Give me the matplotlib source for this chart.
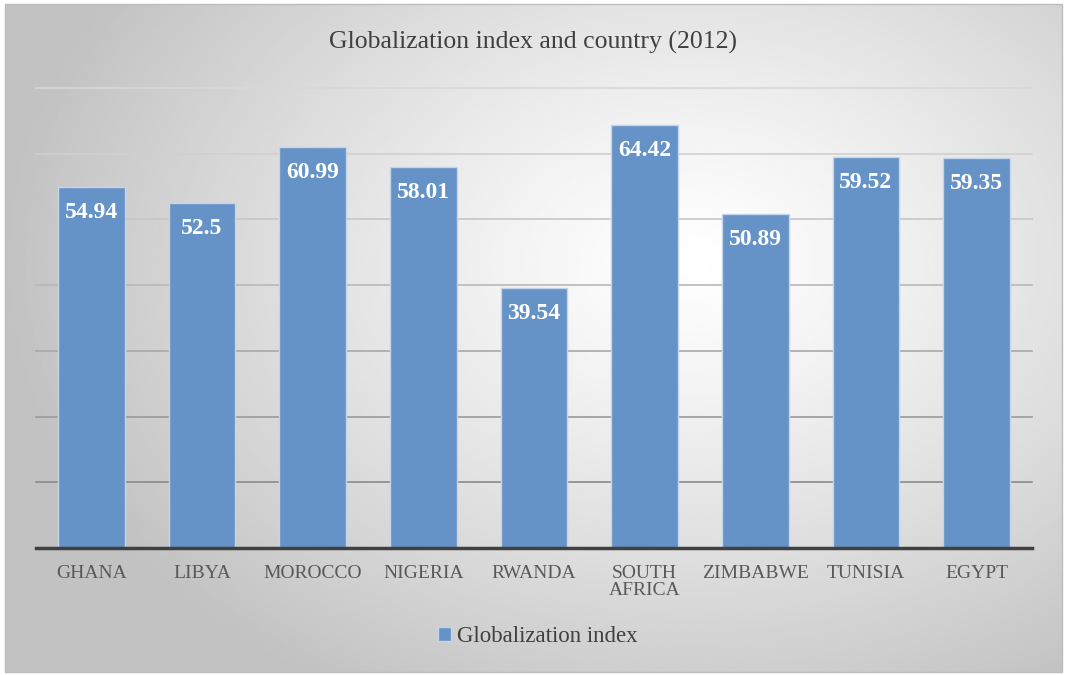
import numpy as np
import matplotlib
matplotlib.use("Agg")
import matplotlib.pyplot as plt
from matplotlib.patches import Rectangle

countries = ["GHANA", "LIBYA", "MOROCCO", "NIGERIA", "RWANDA",
             "SOUTH\nAFRICA", "ZIMBABWE", "TUNISIA", "EGYPT"]
index_2012 = [54.94, 52.5, 60.99, 58.01, 39.54, 64.42, 50.89, 59.52, 59.35]
grid_levels = [10, 20, 30, 40, 50, 60, 70]

SERIF = ["Liberation Serif", "DejaVu Serif"]
BAR_COLOR = "#6592c7"

plt.rcParams["font.family"] = SERIF

fig = plt.figure(figsize=(10.65, 6.75), dpi=100)

# radial grey-to-white backdrop inside a thin frame
bg = fig.add_axes([0, 0, 1, 1], zorder=0)
bg.set_xlim(0, 1065)
bg.set_ylim(675, 0)
bg.axis("off")
xx, yy = np.meshgrid(np.linspace(0, 1065, 400), np.linspace(0, 675, 260))
d = np.hypot((xx - 690) / 740, (yy - 260) / 540)
shade = np.clip(1.0 - 0.26 * d ** 1.2, 0.76, 1.0)
bg.imshow(shade, cmap="gray", vmin=0, vmax=1, extent=(5, 1062, 672, 4),
          interpolation="bilinear", aspect="auto")
bg.add_patch(Rectangle((5, 4), 1057, 668, fill=False, edgecolor="#bdbdbd", lw=1))

ax = fig.add_axes([36 / 1065, 1 - 548 / 675, 996 / 1065, 460 / 675], zorder=1)
ax.patch.set_alpha(0)
x = np.arange(len(countries))

# gridlines fade from darker at the bottom to lighter at the top
grid_cols = ["#8a8a8a", "#9a9a9a", "#a8a8a8", "#b8b8b8", "#c6c6c6", "#d0d0d0", "#d8d8d8"]
for lvl, col in zip(grid_levels, grid_cols):
    ax.axhline(lvl, color=col, lw=1.2, zorder=1, clip_on=False)

bars = ax.bar(x, index_2012, width=0.6, color=BAR_COLOR, edgecolor="#c3d5ea",
              linewidth=1.0, zorder=2, label="Globalization index")
for b, v in zip(bars, index_2012):
    ax.annotate(f"{v:g}", (b.get_x() + b.get_width() / 2, v), xytext=(0, -11),
                textcoords="offset points", ha="center", va="top",
                color="white", fontsize=17, fontweight="bold", zorder=3)

ax.axhline(0, color="#404040", lw=2.5, zorder=3, clip_on=False)
ax.set_xlim(-0.5, len(countries) - 0.5)
ax.set_ylim(0, 70)
ax.set_yticks([])
ax.set_xticks(x)
ax.set_xticklabels(countries, fontsize=14, color="#595959", linespacing=1.0)
ax.tick_params(axis="x", length=0, pad=12)
for s in ax.spines.values():
    s.set_visible(False)

fig.text(533 / 1065, 1 - 42 / 675, "Globalization index and country (2012)",
         ha="center", va="center", fontsize=18.5, color="#404040")

fig.legend(handles=[bars], labels=["Globalization index"], loc="center",
           bbox_to_anchor=(538 / 1065, 1 - 637 / 675), frameon=False,
           fontsize=16.5, handlelength=0.55, handleheight=0.55, handletextpad=0.3,
           labelcolor="#404040")

fig.savefig("out.png", dpi=100)
